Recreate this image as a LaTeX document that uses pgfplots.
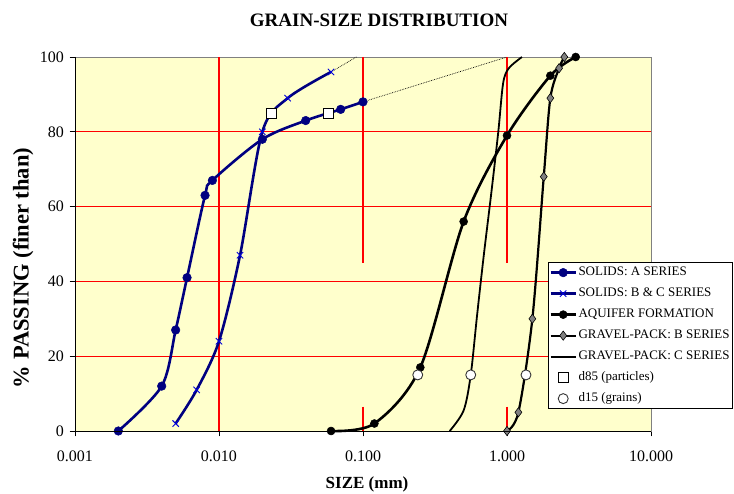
\documentclass[border=0pt]{standalone}
\usepackage{fontspec}
\setmainfont{Liberation Serif}
\usepackage{pgfplots}
\pgfplotsset{compat=1.18}

\definecolor{navy}{RGB}{0,0,128}
\definecolor{plotbg}{RGB}{255,255,204}
\definecolor{gridred}{RGB}{255,0,0}
\definecolor{packgray}{RGB}{128,128,128}
\definecolor{framegray}{RGB}{128,128,128}

\begin{document}
\begin{tikzpicture}[x=1bp,y=1bp]
\path[use as bounding box] (0,0) rectangle (734,494);
\node[font=\fontsize{19bp}{22bp}\selectfont\bfseries, anchor=center]
  at (379,474) {GRAIN-SIZE DISTRIBUTION};
\begin{axis}[
  at={(75bp,63bp)}, anchor=south west,
  width=576bp, height=374bp, scale only axis,
  xmode=log, xmin=0.001, xmax=10, ymin=0, ymax=100,
  xtick={0.001,0.01,0.1,1,10},
  xticklabels={0.001,0.010,0.100,1.000,10.000},
  ytick={0,20,40,60,80,100},
  yticklabels={0,20,40,60,80,100},
  xminorticks=false, yminorticks=false,
  xtick pos=bottom, ytick pos=left,
  tick align=center, major tick length=11bp,
  tick style={black, line width=0.8bp},
  ticklabel style={font=\fontsize{16bp}{18bp}\selectfont},
  xticklabel style={yshift=-11bp},
  yticklabel style={xshift=-2bp},
  axis background/.style={fill=plotbg},
  axis line style={draw=framegray, line width=0.9bp},
  clip=false,
  xlabel={\textbf{SIZE (mm)}},
  every axis x label/.style={at={(axis description cs:0.507,-0.142)}, anchor=center,
    font=\fontsize{17bp}{20bp}\selectfont},
  ylabel={\textbf{\% PASSING (finer than)}},
  every axis y label/.style={at={(axis description cs:-0.0903,0.436)}, anchor=center,
    rotate=90, font=\fontsize{22.5bp}{25bp}\selectfont},
  legend style={at={(0.8212,0.4519)}, anchor=north west, draw=black, fill=white,
    line width=0.8bp, inner xsep=1bp, inner ysep=3bp, row sep=6.5bp,
    font=\fontsize{13bp}{15bp}\selectfont,
    nodes={text height=9.5bp, text depth=3bp, inner xsep=1.5bp, inner ysep=1bp},
    cells={anchor=west}},
  legend image code/.code={%
    \draw[mark repeat=2,mark phase=2,#1] plot coordinates {(0bp,0bp) (12.5bp,0bp) (25bp,0bp)};},
  after end axis/.code={%
    \draw[black, line width=0.9bp] (rel axis cs:0,1) -- (rel axis cs:0,0) -- (rel axis cs:1,0);},
  vgrid/.style={draw=gridred, line width=1.2bp, forget plot},
]

% horizontal grid
\addplot[draw=gridred, line width=0.9bp, forget plot] coordinates {(0.001,20) (10,20)};
\addplot[draw=gridred, line width=0.9bp, forget plot] coordinates {(0.001,40) (10,40)};
\addplot[draw=gridred, line width=0.9bp, forget plot] coordinates {(0.001,60) (10,60)};
\addplot[draw=gridred, line width=0.9bp, forget plot] coordinates {(0.001,80) (10,80)};
% vertical grid, broken at 0.1 and 1 mm
\addplot[vgrid] coordinates {(0.01,0) (0.01,100)};
\addplot[vgrid] coordinates {(0.1,100) (0.1,45)};
\addplot[vgrid] coordinates {(0.1,6.5) (0.1,0)};
\addplot[vgrid] coordinates {(1,100) (1,45)};
\addplot[vgrid] coordinates {(1,6.5) (1,0)};

% extrapolated tails of the solids curves
\addplot[black, line width=0.7bp, densely dotted, forget plot] coordinates {(0.06,96) (0.09,100)};
\addplot[black, line width=0.7bp, densely dotted, forget plot] coordinates {(0.1,88) (1.0,100)};

% solids: A series
\addplot[navy, line width=2.6bp, smooth, tension=0.5, mark=*, mark size=4.3bp,
  mark options={fill=navy, draw=navy, line width=0.5bp}]
  coordinates {(0.002,0) (0.004,12) (0.005,27) (0.006,41) (0.008,63) (0.009,67)
               (0.02,78) (0.04,83) (0.07,86) (0.1,88)};
\addlegendentry{SOLIDS: A SERIES}

% solids: B & C series
\addplot[navy, line width=2.6bp, smooth, tension=0.5, mark=x, mark size=4.5bp,
  mark options={draw=blue!70!navy, line width=0.9bp}]
  coordinates {(0.005,2) (0.007,11) (0.01,24) (0.014,47) (0.02,80) (0.03,89) (0.06,96)};
\addlegendentry{SOLIDS: B \& C SERIES}

% aquifer formation
\addplot[black, line width=2.6bp, smooth, tension=0.5, mark=*, mark size=4bp,
  mark options={fill=black, line width=0.5bp}]
  coordinates {(0.06,0) (0.12,2) (0.25,17) (0.5,56) (1.0,79) (2.0,95) (3.0,100)};
\addlegendentry{AQUIFER FORMATION}

% gravel pack: B series
\addplot[black, line width=2.2bp, smooth, tension=0.5, mark=diamond*, mark size=4.6bp,
  mark options={fill=packgray, draw=black, line width=0.6bp}]
  coordinates {(1.0,0) (1.2,5) (1.5,30) (1.8,68) (2.0,89) (2.3,97) (2.5,100)};
\addlegendentry{GRAVEL-PACK: B SERIES}

% gravel pack: C series
\addplot[black, line width=1.8bp, smooth, tension=0.5]
  coordinates {(0.40,0) (0.50,5.5) (0.56,15) (0.62,31) (0.69,47) (0.78,64)
               (0.87,80) (0.94,93) (1.03,97) (1.27,100)};
\addlegendentry{GRAVEL-PACK: C SERIES}

% d85 of the solids
\addplot[only marks, mark=square*, mark size=5bp,
  mark options={fill=white, draw=black, line width=0.9bp}]
  coordinates {(0.0231,85) (0.058,85)};
\addlegendentry{d85 (particles)}

% d15 of the grains
\addplot[only marks, mark=*, mark size=5bp,
  mark options={fill=white, draw=black!80, line width=0.9bp}]
  coordinates {(0.24,15) (0.56,15) (1.355,15)};
\addlegendentry{d15 (grains)}

\end{axis}
\end{tikzpicture}
\end{document}
